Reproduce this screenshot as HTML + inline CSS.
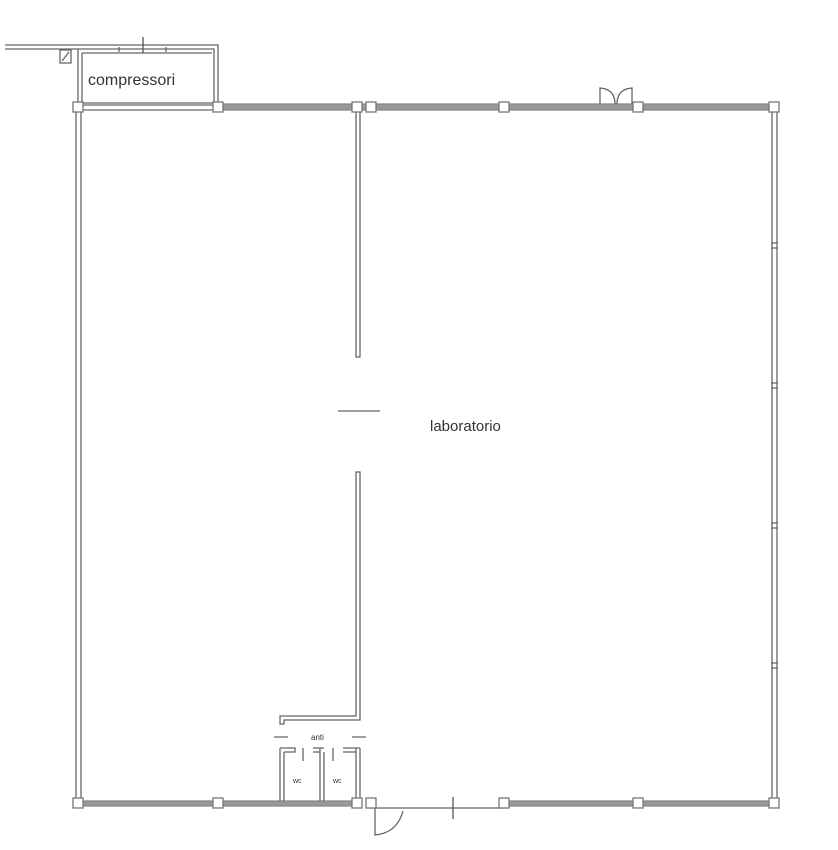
<!DOCTYPE html>
<html><head><meta charset="utf-8"><style>
html,body{margin:0;padding:0;background:#fff;width:838px;height:850px;overflow:hidden}
svg{display:block}
text{font-family:"Liberation Sans",sans-serif;fill:#333}
</style></head><body>
<svg width="838" height="850" viewBox="0 0 838 850" xmlns="http://www.w3.org/2000/svg">
<g fill="none" stroke="#666" stroke-width="1.3">
<path d="M5 45 H218 V107 M5 49 H214 V103 M78 49 V103 H214"/>
<path d="M82 53 V103 M82 53 H212"/>
<path d="M119 47 v5 M166 47 v5"/>
<path d="M143 37 v16" stroke="#555"/>
<rect x="60" y="50" width="11" height="13"/>
<path d="M62 61 L69 52"/>
<rect x="218" y="104" width="556" height="6" fill="#999" stroke="#888"/>
<path d="M80 105 H218 M80 110 H218"/>
<path d="M76 110 V803 M81 110 V803"/>
<path d="M772 110 V803 M777 110 V803"/>
<path d="M771 243 h7 M771 248 h7 M771 383 h7 M771 388 h7 M771 523 h7 M771 528 h7 M771 663 h7 M771 668 h7" stroke="#666"/>
<rect x="80" y="801" width="278" height="5" fill="#999" stroke="#888"/>
<path d="M370 808 H504"/>
<rect x="504" y="801" width="270" height="5" fill="#999" stroke="#888"/>
<path d="M453 797 v22" stroke="#555"/>
<path d="M375 808 V835 Q397 833 403 811"/>
<path d="M600 104 V88 Q615 89 615 104 M632 104 V88 Q617 89 617 104"/>
<path d="M356 110 V357 H360 V110"/>
<path d="M356 472 V716 H280 V724 H284 V720 H360 V472 Z"/>
<path d="M338 411 H380"/>
<path d="M274 737 H288 M352 737 H366"/>
<path d="M280 748 V801 M284 752 V801 M280 748 H295 V752 H284"/>
<path d="M320 748 V801 M324 752 V801 M313 748 H324 M313 752 H320"/>
<path d="M356 748 V801 M360 748 V801 M343 752 H356 M343 748 H360"/>
<path d="M303 748 v13 M333 748 v13"/>
<g fill="#fff" stroke="#777">
<rect x="73" y="102" width="10" height="10"/><rect x="213" y="102" width="10" height="10"/>
<rect x="352" y="102" width="10" height="10"/><rect x="366" y="102" width="10" height="10"/>
<rect x="499" y="102" width="10" height="10"/><rect x="633" y="102" width="10" height="10"/>
<rect x="769" y="102" width="10" height="10"/>
<rect x="73" y="798" width="10" height="10"/><rect x="213" y="798" width="10" height="10"/>
<rect x="352" y="798" width="10" height="10"/><rect x="366" y="798" width="10" height="10"/>
<rect x="499" y="798" width="10" height="10"/><rect x="633" y="798" width="10" height="10"/>
<rect x="769" y="798" width="10" height="10"/>
</g>
</g>
<text x="88" y="85" font-size="16">compressori</text>
<text x="430" y="431" font-size="15">laboratorio</text>
<text x="311" y="740" font-size="8">anti</text>
<text x="293" y="783" font-size="7">wc</text>
<text x="333" y="783" font-size="7">wc</text>
</svg>
</body></html>
